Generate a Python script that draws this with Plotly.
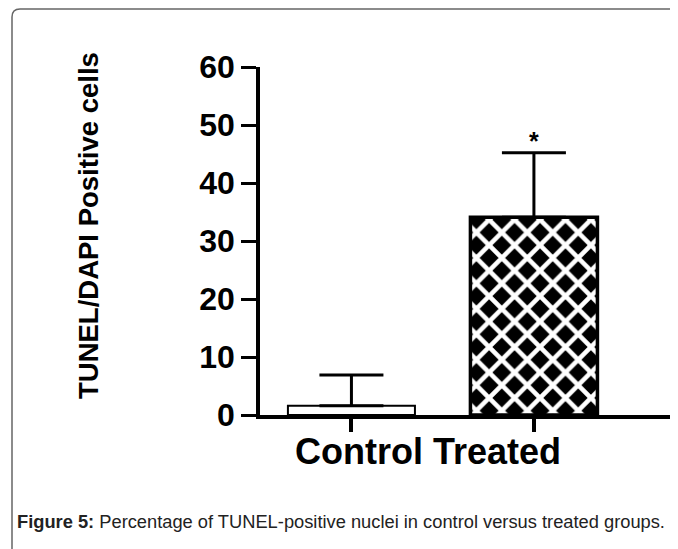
import plotly.graph_objects as go

categories = ["Control", "Treated"]
means = [1.6, 34.1]
sem_upper = [5.3, 11.1]
y_ticks = [0, 10, 20, 30, 40, 50, 60]
y_title = "TUNEL/DAPI Positive cells"
caption_bold = "Figure 5:"
caption_rest = " Percentage of TUNEL-positive nuclei in control versus treated groups."
significance = ["", "*"]

OFF = 8  # page body margin
W, H = 678 - OFF, 549 - OFF
L, T = 260 - OFF, 67 - OFF
R = 1
B = H - (415 - OFF)
PW, PH = W - L - R, H - T - B

def px(xp):
    return (xp - OFF - L) / PW

def py(yp):
    return ((415 - OFF) - (yp - OFF)) / PH

FONT = "Liberation Sans, Arial, Helvetica, sans-serif"

fig = go.Figure()
fig.add_trace(go.Bar(
    x=categories,
    y=means,
    width=0.696,
    marker=dict(
        color=["white", "black"],
        line=dict(color="black", width=[2, 3.5]),
        pattern=dict(shape=["", "x"], fgcolor="white", fgopacity=1,
                     size=18, solidity=0.45, fillmode="overlay"),
    ),
    error_y=dict(type="data", symmetric=False, array=sem_upper,
                 arrayminus=[0, 0], color="black", thickness=3, width=32),
    showlegend=False,
))

for c, m, e, s in zip(categories, means, sem_upper, significance):
    if s:
        fig.add_annotation(x=c, y=m + e, text="<b>" + s + "</b>", showarrow=False,
                           xanchor="center", yanchor="bottom", yshift=-4,
                           font=dict(family=FONT, size=25, color="black"))

fig.add_annotation(xref="paper", yref="paper", x=px(427.5), y=py(451),
                   text="<b>" + " ".join(categories) + "</b>", showarrow=False,
                   xanchor="center", yanchor="middle",
                   font=dict(family=FONT, size=36, color="black"))

fig.add_annotation(xref="paper", yref="paper", x=px(88), y=py(226),
                   text="<b>" + y_title + "</b>", showarrow=False, textangle=-90,
                   xanchor="center", yanchor="middle",
                   font=dict(family=FONT, size=27.5, color="black"))

fig.add_annotation(xref="paper", yref="paper", x=px(15), y=py(521),
                   text="<b>" + caption_bold + "</b>" + caption_rest, showarrow=False,
                   xanchor="left", yanchor="middle",
                   font=dict(family=FONT, size=18.3, color="#222222"))

border = (f"M {px(12)},{py(560)} L {px(12)},{py(17)} "
          f"Q {px(12)},{py(9)} {px(20)},{py(9)} L {px(700)},{py(9)}")
fig.add_shape(type="path", xref="paper", yref="paper", path=border,
              line=dict(color="#666666", width=1.5))

fig.update_layout(
    width=W, height=H,
    margin=dict(l=L, r=R, t=T, b=B, pad=0),
    paper_bgcolor="white", plot_bgcolor="white",
    xaxis=dict(type="category", range=[-0.501, 1.784], showline=True,
               linecolor="black", linewidth=3.5, ticks="outside", ticklen=13,
               tickwidth=3.5, tickcolor="black", showticklabels=False,
               showgrid=False, zeroline=False),
    yaxis=dict(range=[0, 60], tickvals=y_ticks, showline=True, linecolor="black",
               linewidth=3.5, ticks="outside", ticklen=15, tickwidth=3,
               tickcolor="black", showgrid=False, zeroline=False,
               tickfont=dict(family=FONT, size=32, color="black", weight="bold")),
)

fig.write_html("out.html")
